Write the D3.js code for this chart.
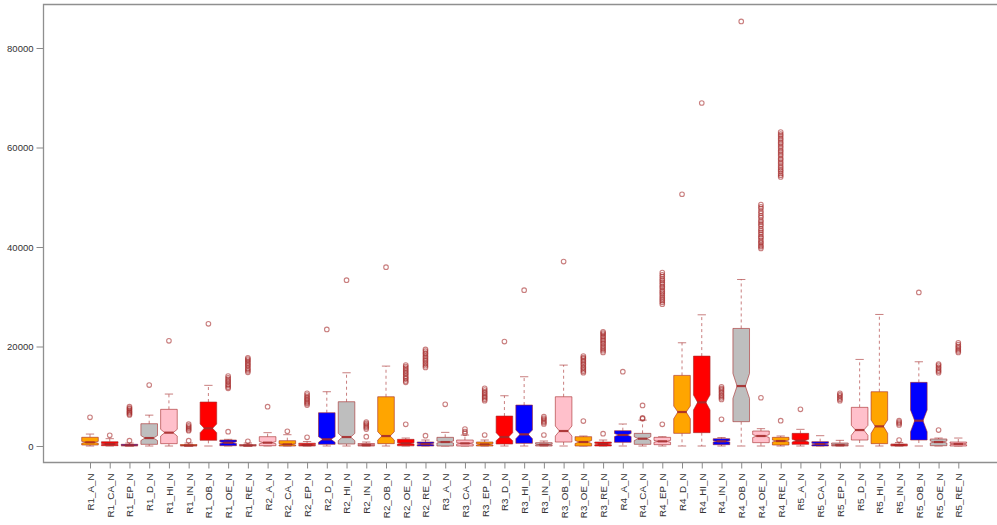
<!DOCTYPE html>
<html>
<head>
<meta charset="utf-8">
<script src="https://cdn.jsdelivr.net/npm/d3@7/dist/d3.min.js"></script>
<style>
  html, body { margin: 0; padding: 0; background: #fff; }
  svg { display: block; font-family: "Liberation Sans", Arial, sans-serif; }
</style>
</head>
<body>
<svg id="chart" width="997" height="525"></svg>
<script>
// Groups: five regions (R1..R5) by nine land-use codes
const categories = [
  "R1_A_N","R1_CA_N","R1_EP_N","R1_D_N","R1_HI_N","R1_IN_N","R1_OB_N","R1_OE_N","R1_RE_N",
  "R2_A_N","R2_CA_N","R2_EP_N","R2_D_N","R2_HI_N","R2_IN_N","R2_OB_N","R2_OE_N","R2_RE_N",
  "R3_A_N","R3_CA_N","R3_EP_N","R3_D_N","R3_HI_N","R3_IN_N","R3_OB_N","R3_OE_N","R3_RE_N",
  "R4_A_N","R4_CA_N","R4_EP_N","R4_D_N","R4_HI_N","R4_IN_N","R4_OB_N","R4_OE_N","R4_RE_N",
  "R5_A_N","R5_CA_N","R5_EP_N","R5_D_N","R5_HI_N","R5_IN_N","R5_OB_N","R5_OE_N","R5_RE_N"
];

// Box fill colours, recycled along the groups
const boxColors = ["#FFA500", "#FF0000", "#0000FF", "#BEBEBE", "#FFC0CB"];

// Five-number summaries
const whiskerLow = [
  0,0,0,0,0,0,0,0,0,
  0,0,0,0,0,0,0,0,0,
  0,0,0,0,0,0,0,0,0,
  0,0,0,0,0,0,0,0,0,
  0,0,0,0,0,0,0,0,0
];
const hingeLow = [
  200,60,0,330,470,0,1140,60,0,
  60,0,0,330,400,0,470,30,0,
  0,0,0,400,530,0,800,0,0,
  740,330,270,2540,2680,270,4890,670,200,
  330,0,0,1200,470,0,1200,60,0
];
const medians = [
  740,400,150,1600,2680,100,3550,670,100,
  670,330,200,1340,1800,200,2000,530,400,
  800,530,330,1800,2340,270,3010,800,400,
  2210,1470,940,6830,8770,940,12050,2010,1000,
  1070,400,200,3210,3950,200,5090,800,400
];
const hingeHigh = [
  1750,860,340,4480,7370,300,8840,1200,300,
  1870,1070,560,6690,8900,500,9900,1340,800,
  1740,1200,800,6020,8230,670,9900,1870,800,
  3080,2540,1740,14190,18070,1470,23630,3010,1740,
  2540,870,600,7770,10910,400,12790,1410,800
];
const whiskerHigh = [
  2400,1470,600,6200,10440,600,12190,1340,600,
  2680,2270,900,10910,14720,800,16060,1600,1200,
  2740,2200,1200,10100,13920,1000,16260,2010,1200,
  4420,5200,1870,20750,26370,1700,33470,3480,2010,
  3350,2070,1140,17400,26440,700,16930,1600,1600
];

// Notch limits around each median
const notchLow = [
  550,280,100,1100,2000,60,2680,500,60,
  450,200,120,740,1070,120,1200,400,250,
  600,380,200,1070,1470,170,2010,500,250,
  1900,1100,750,5490,7230,800,9570,1700,800,
  800,250,120,2140,2540,120,2880,600,250
];
const notchHigh = [
  930,520,200,2100,3350,140,4420,840,140,
  890,460,280,1870,2540,280,2880,660,550,
  1000,680,460,2680,3210,370,4020,1100,550,
  2500,1850,1130,8030,10240,1080,14590,2300,1200,
  1340,550,280,4150,5220,280,7230,1000,550
];

// Points beyond the whiskers
const outliers = [
  [5760],
  [2150],
  [1070, 6230, 6450, 6700, 6900, 7150, 7420, 7600, 7900],
  [12250],
  [21150],
  [1070, 3070, 3280, 3550, 3800, 4050, 4380],
  [24560],
  [2880, 11590, 11850, 12200, 12420, 12800, 13050, 13380, 13700, 14060],
  [940, 14800, 15120, 15420, 15700, 16080, 16320, 16650, 16920, 17230, 17480, 17730],
  [7900],
  [2950],
  [1740, 8230, 8520, 8780, 9060, 9330, 9620, 9880, 10240, 10580],
  [23430],
  [33330],
  [1870, 3410, 3720, 3980, 4260, 4540, 4820],
  [35940],
  [4350, 12790, 13080, 13460, 13720, 14030, 14420, 14680, 15010, 15330, 15640, 15970, 16260],
  [2070, 15800, 16130, 16470, 16780, 17120, 17380, 17760, 18040, 18420, 18690, 19060, 19410],
  [8370],
  [2540, 2900, 3410],
  [2210, 9100, 9380, 9720, 9960, 10280, 10620, 10880, 11260, 11590],
  [21000],
  [31330],
  [2210, 4420, 4710, 4980, 5320, 5580, 5890],
  [37080],
  [5020, 14720, 15020, 15340, 15660, 15930, 16310, 16580, 16920, 17180, 17560, 17790, 18070],
  [2470, 18810, 19170, 19480, 19820, 20130, 20520, 20780, 21170, 21430, 21820, 22080, 22460, 22690, 22950],
  [14930],
  [5500, 5650, 8160],
  [4350, 28510, 28880, 29230, 29570, 29920, 30310, 30680, 31020, 31380, 31820, 32090, 32530, 32880, 33270, 33580, 34030, 34420, 34870],
  [50600],
  [68940],
  [5360, 9370, 9680, 10020, 10290, 10670, 10930, 11320, 11580, 11910],
  [85340],
  [9700, 39700, 40060, 40280, 40730, 40980, 41360, 41820, 42080, 42530, 42930, 43320, 43680, 44230, 44580, 45020, 45380, 45920, 46280, 46770, 47180, 47720, 48080, 48530],
  [5090, 54080, 54420, 54780, 55230, 55530, 55920, 56280, 56730, 57080, 57520, 57830, 58320, 58680, 59120, 59430, 59920, 60280, 60730, 61080, 61520, 61880, 62330, 62680, 63110],
  [7370],
  [],
  [9100, 9420, 9680, 10030, 10280, 10580],
  [],
  [],
  [1200, 4220, 4520, 4780, 5090],
  [30860],
  [3210, 14720, 15030, 15280, 15620, 15880, 16220, 16460],
  [18810, 19120, 19380, 19730, 19980, 20370, 20750]
];

const yTicks = [0, 20000, 40000, 60000, 80000];

// ---- drawing ----
const svg = d3.select("#chart");
const frame = { left: 43.5, top: 4.5, right: 1003.5, bottom: 462.5 };

const x = d3.scalePoint().domain(categories).range([90, 958.3]);
const y = d3.scaleLinear().domain([0, 80000]).range([446, 48]);

const halfW = 8.3;          // half box width
const notchFrac = 0.5;      // width at the median relative to the box
const capHalf = halfW * 0.5;

const edge = "#A52A2A";

// plot frame (right side falls outside the page)
svg.append("path")
  .attr("d", `M${frame.right},${frame.top}H${frame.left}V${frame.bottom}H${frame.right}`)
  .attr("fill", "none")
  .attr("stroke", "#8f8f8f")
  .attr("stroke-width", 1.3);

// y axis
const yAxis = svg.append("g")
  .attr("transform", `translate(${frame.left},0)`)
  .call(d3.axisLeft(y).tickValues(yTicks).tickSize(7).tickPadding(3).tickFormat(d3.format("d")));
yAxis.select(".domain").remove();
yAxis.selectAll(".tick line").attr("stroke", "#8a8a8a");
yAxis.selectAll(".tick text")
  .attr("fill", "#333")
  .style("font-size", "9.5px")
  .style("font-family", "'Liberation Sans', Arial, sans-serif");

// x axis with vertical labels
const xAxis = svg.append("g")
  .attr("transform", `translate(0,${frame.bottom})`)
  .call(d3.axisBottom(x).tickSize(6).tickPadding(4));
xAxis.select(".domain").remove();
xAxis.selectAll(".tick line").attr("stroke", "#8a8a8a");
xAxis.selectAll(".tick text")
  .attr("fill", "#333")
  .style("font-size", "9.8px")
  .style("font-family", "'Liberation Sans', Arial, sans-serif")
  .attr("transform", "rotate(-90)")
  .attr("text-anchor", "end")
  .attr("x", -11)
  .attr("y", 0)
  .attr("dy", "0.35em");

const boxes = svg.append("g");

categories.forEach((name, i) => {
  const cx = x(name);
  const fill = boxColors[i % boxColors.length];
  const g = boxes.append("g");

  const yq1 = y(hingeLow[i]), yq3 = y(hingeHigh[i]), ym = y(medians[i]);
  const yn1 = y(notchLow[i]), yn2 = y(notchHigh[i]);
  const yLo = y(whiskerLow[i]), yHi = y(whiskerHigh[i]);

  // whiskers
  g.append("line")
    .attr("x1", cx).attr("x2", cx).attr("y1", yq3).attr("y2", yHi)
    .attr("stroke", edge).attr("stroke-opacity", 0.6)
    .attr("stroke-dasharray", "3,3");
  g.append("line")
    .attr("x1", cx).attr("x2", cx).attr("y1", yq1).attr("y2", yLo)
    .attr("stroke", edge).attr("stroke-opacity", 0.6)
    .attr("stroke-dasharray", "3,3");
  [yHi, yLo].forEach(yy => {
    g.append("line")
      .attr("x1", cx - capHalf).attr("x2", cx + capHalf)
      .attr("y1", yy).attr("y2", yy)
      .attr("stroke", edge).attr("stroke-opacity", 0.6);
  });

  // notched box
  const nw = halfW * notchFrac;
  const pts = [
    [cx - halfW, yq1], [cx - halfW, yn1], [cx - nw, ym], [cx - halfW, yn2], [cx - halfW, yq3],
    [cx + halfW, yq3], [cx + halfW, yn2], [cx + nw, ym], [cx + halfW, yn1], [cx + halfW, yq1]
  ];
  g.append("path")
    .attr("d", d3.line()(pts) + "Z")
    .attr("fill", fill)
    .attr("stroke", edge)
    .attr("stroke-opacity", 0.6)
    .attr("stroke-width", 1);

  // median
  g.append("line")
    .attr("x1", cx - nw - 0.5).attr("x2", cx + nw + 0.5)
    .attr("y1", ym).attr("y2", ym)
    .attr("stroke", edge)
    .attr("stroke-opacity", 0.9)
    .attr("stroke-width", 2.2);

  // outliers
  g.selectAll("circle")
    .data(outliers[i])
    .join("circle")
    .attr("cx", cx)
    .attr("cy", d => y(d))
    .attr("r", 2.3)
    .attr("fill", "none")
    .attr("stroke", edge)
    .attr("stroke-opacity", 0.6)
    .attr("stroke-width", 1.1);
});
</script>
</body>
</html>
